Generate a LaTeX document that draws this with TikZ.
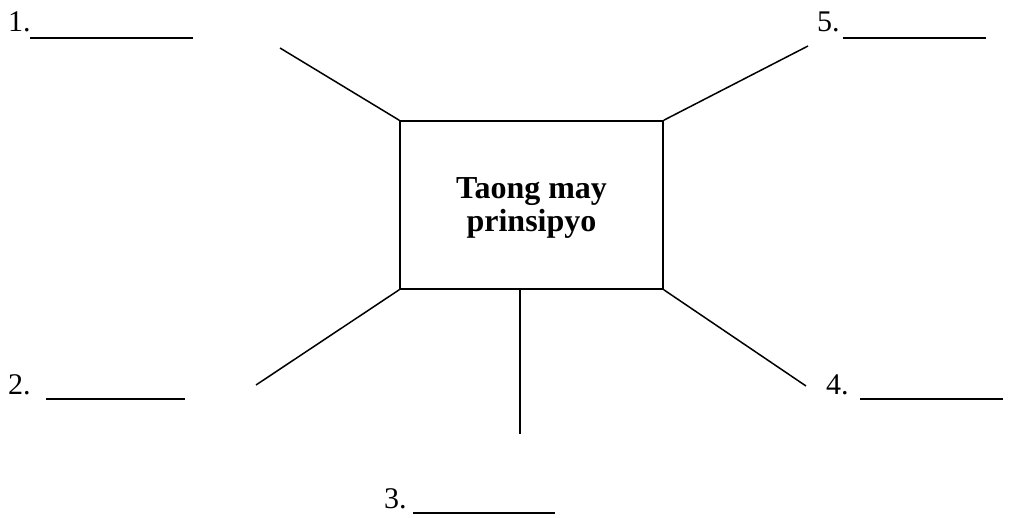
\documentclass[tikz,border=0pt]{standalone}
\usepackage{fontspec}
\setmainfont{Liberation Serif}
\begin{document}
\begin{tikzpicture}[x=1pt,y=-1pt,
  conn/.style={line width=1.5pt,black},
  uline/.style={line width=1.1pt,black},
  lbl/.style={anchor=base west,inner sep=0pt,font=\fontsize{30}{34}\selectfont},
  mainbox/.style={draw,line width=1.5pt,minimum width=263pt,minimum height=168pt,inner sep=0pt,align=center,font=\fontsize{32}{33}\selectfont\bfseries}]
\useasboundingbox (0,0) rectangle (1025,518);
\node[mainbox] (box) at (531.5,205) {\raisebox{0pt}[0pt][0pt]{}};
\node[inner sep=0pt,align=center,font=\fontsize{32}{33}\selectfont\bfseries] (title) at (531.5,208) {Taong may\\prinsipyo};
\coordinate (e1) at (280,48);
\coordinate (e5) at (808,46);
\coordinate (e2) at (256,385);
\coordinate (e4) at (806,386);
\coordinate (e3) at (520,434);
\coordinate (s3) at (520,289);
\draw[conn] (box.north west) -- (e1);
\draw[conn] (box.north east) -- (e5);
\draw[conn] (box.south west) -- (e2);
\draw[conn] (box.south east) -- (e4);
\draw[conn] (s3) -- (e3);
\node[lbl] (l1) at (8,32) {1.};
\draw[uline] (30,38) -- (193,38);
\node[lbl] (l5) at (817,32) {5.};
\draw[uline] (843,38) -- (986,38);
\node[lbl] (l2) at (8,394) {2.};
\draw[uline] (46,399) -- (185,399);
\node[lbl] (l4) at (826,394) {4.};
\draw[uline] (860,399) -- (1003,399);
\node[lbl] (l3) at (384,508) {3.};
\draw[uline] (413,513) -- (555,513);
\end{tikzpicture}
\end{document}
